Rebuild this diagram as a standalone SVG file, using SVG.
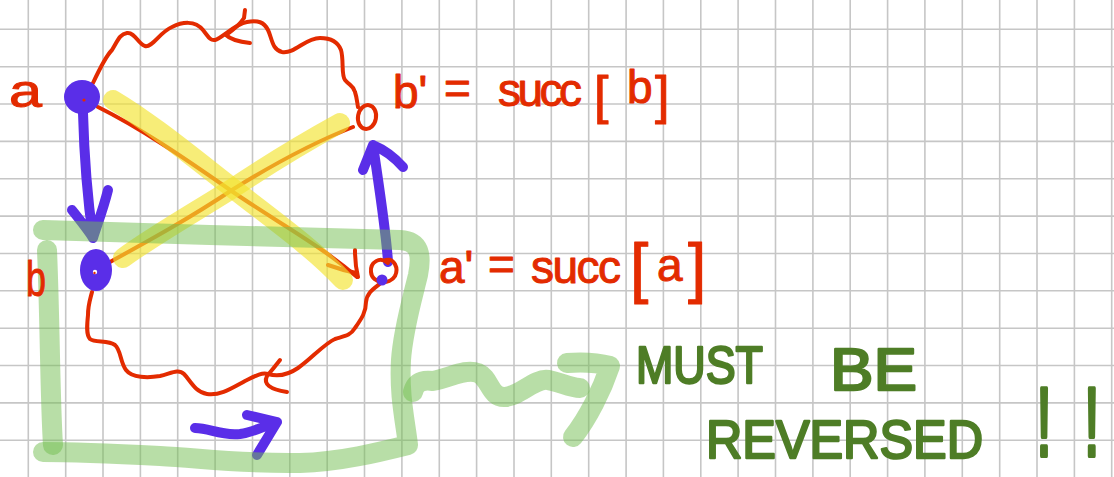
<svg xmlns="http://www.w3.org/2000/svg" width="1114" height="477" viewBox="0 0 1114 477">
<style>
.grid{fill:none;stroke:#c6c6c6;stroke-width:1.6}
.red{fill:none;stroke:#e32b00;stroke-width:4;stroke-linecap:round;stroke-linejoin:round}
.pur{fill:none;stroke:#5a2ee8;stroke-width:10;stroke-linecap:round;stroke-linejoin:round}
.yel{fill:none;stroke:#f2e430;stroke-opacity:0.65;stroke-width:20;stroke-linecap:round;stroke-linejoin:round}
.grn{fill:none;stroke:#72be50;stroke-opacity:0.5;stroke-width:20;stroke-linecap:round;stroke-linejoin:round}
.rt{fill:#e32b00;stroke:#e32b00;stroke-width:1;stroke-linejoin:round;font-family:"Liberation Sans",Arial,sans-serif}
.gt{fill:#4e7d26;stroke:#4e7d26;stroke-width:2.4;stroke-linejoin:round;font-family:"Liberation Sans",Arial,sans-serif}
</style>
<rect width="1114" height="477" fill="#ffffff"/>
<path class="grid" d="M28.3 0V477M65.7 0V477M103 0V477M140.4 0V477M177.7 0V477M215.1 0V477M252.5 0V477M289.8 0V477M327.2 0V477M364.5 0V477M401.9 0V477M439.3 0V477M476.6 0V477M514 0V477M551.3 0V477M588.7 0V477M626.1 0V477M663.4 0V477M700.8 0V477M738.1 0V477M775.5 0V477M812.9 0V477M850.2 0V477M887.6 0V477M924.9 0V477M962.3 0V477M999.7 0V477M1037 0V477M1074.4 0V477M1111.7 0V477M0 29.3H1114M0 66.7H1114M0 104H1114M0 141.4H1114M0 178.7H1114M0 216.1H1114M0 253.5H1114M0 290.8H1114M0 328.2H1114M0 365.5H1114M0 402.9H1114M0 440.3H1114"/>
<g id="connectors">
  <g id="red-links">
    <path class="red" d="M93,83 C100,68 106,56 112,50 C118,40 120,34 127,33 C135,32 138,44 145,46 C152,48 160,32 172,27 C182,22 195,20 203,30 C208,36 210,41 215,40 C222,38 235,24 247,22 C258,20 264,22 268,30 C272,38 272,50 282,52 C295,54 305,38 320,38 C332,38 338,42 341,50 C344,60 341,75 345,80 C350,86 353,85 355,92 C357,98 357,102 358,107"/>
    <path class="red" d="M245,10 L244,18 Q238,27 226,35 Q232,41 250,43"/>
    <path class="red" d="M92,292 C90,300 88,305 88,315 C87,325 86,335 90,339 C95,343 108,340 115,345 C121,350 120,362 126,370 C132,378 148,378 160,376 C170,374 178,368 184,374 C190,380 195,392 207,394 C220,396 232,388 245,381 C255,376 262,372 268,374 C275,376 285,377 298,368 C310,360 325,343 335,339 C345,336 350,336 355,328 C362,318 366,312 366,302 C367,292 375,288 382,282"/>
    <path class="red" d="M280,360 Q273,369 267,376 Q261,388 287,392"/>
    <path class="red" d="M98,107 C140,128 180,155 233,192 C280,224 320,245 357,277"/>
    <path class="red" d="M355,250 Q355,265 358,277 M328,265 Q342,270 356,273"/>
    <path class="red" d="M353,127 C320,140 280,160 232,190 C190,218 150,240 110,262"/>
  </g>
  <g id="highlights-yellow">
    <path class="yel" d="M113,100 C150,122 190,155 235,190 C280,225 315,250 343,280"/>
    <path class="yel" d="M340,123 C300,145 260,170 230,190 C190,215 150,238 123,258"/>
  </g>
  <g id="purple-arrows">
    <path class="pur" d="M83,113 C84,150 87,195 93,238 M72,210 C80,220 88,230 93,238 M108,190 C103,210 97,225 93,238"/>
    <path class="pur" d="M388,262 C386,230 378,180 373,145 M363,170 L373,145 C385,150 395,158 403,167"/>
    <path class="pur" stroke-width="11" d="M195,428 C210,428 220,436 240,434 C255,432 265,425 277,422 M247,415 L277,422 L257,455"/>
  </g>
  <g id="green-loop">
    <path class="grn" d="M43,230 C150,233 300,238 400,240 C420,241 422,255 418,275 C412,300 403,330 401,360 C399,395 405,420 408,445 C380,452 340,462 300,463 C240,464 200,458 160,456 C120,454 80,452 43,452"/>
    <path class="grn" d="M47,250 C50,320 50,400 53,445"/>
    <path class="grn" d="M413,392 C416,380 425,380 433,381 C450,378 465,368 478,373 C490,378 490,398 505,397 C520,396 535,378 548,380 C560,382 570,388 580,388"/>
    <path class="grn" d="M567,363 C580,362 595,362 610,366 C602,390 588,418 573,437"/>
  </g>
</g>
<g id="node-a">
  <ellipse cx="82" cy="97" rx="18" ry="17" fill="#5a2ee8"/>
  <circle cx="84" cy="100" r="1.6" fill="#e32b00"/>
</g>
<g id="node-b">
  <ellipse cx="96" cy="270" rx="16" ry="21" fill="#5a2ee8"/>
  <circle cx="95" cy="272" r="2.2" fill="#ffffff"/>
  <circle cx="94.5" cy="273" r="1.2" fill="#e32b00"/>
</g>
<g id="node-b-prime">
  <ellipse cx="367" cy="117" rx="9" ry="12" fill="none" stroke="#e32b00" stroke-width="4" transform="rotate(10 367 117)"/>
</g>
<g id="node-a-prime">
  <path class="red" d="M388,263 C380,256 370,262 371,272 C372,284 390,285 395,276 C399,268 394,258 386,260"/>
  <circle cx="382" cy="280" r="5.5" fill="#5a2ee8"/>
</g>
<g id="labels">
  <text class="rt" x="9" y="107" font-size="46" textLength="33" lengthAdjust="spacingAndGlyphs">a</text>
  <text class="rt" x="26" y="296" font-size="50" textLength="20" lengthAdjust="spacingAndGlyphs">b</text>
  <text class="rt" font-size="46">
    <tspan x="393" y="108">b'</tspan>
    <tspan x="444" y="104">=</tspan>
    <tspan x="498" y="106" textLength="84" lengthAdjust="spacing">succ</tspan>
    <tspan x="594" y="113" font-size="52">[</tspan>
    <tspan x="627" y="103">b</tspan>
    <tspan x="655" y="113" font-size="52">]</tspan>
  </text>
  <text class="rt" font-size="46">
    <tspan x="439" y="283">a'</tspan>
    <tspan x="488" y="280">=</tspan>
    <tspan x="531" y="283" textLength="90" lengthAdjust="spacing">succ</tspan>
    <tspan x="630" y="290" font-size="66">[</tspan>
    <tspan x="657" y="281">a</tspan>
    <tspan x="688" y="290" font-size="66">]</tspan>
  </text>
  <text class="gt" x="636" y="383" font-size="52" textLength="127" lengthAdjust="spacingAndGlyphs">MUST</text>
  <text class="gt" x="830" y="390" font-size="60" textLength="87" lengthAdjust="spacingAndGlyphs">BE</text>
  <text class="gt" x="706" y="458" font-size="54" textLength="277" lengthAdjust="spacingAndGlyphs">REVERSED</text>
  <text class="gt" font-size="58" stroke-width="1.4" transform="translate(1036,456) scale(1,1.7)" textLength="64" lengthAdjust="spacing">!!</text>
</g>
</svg>
